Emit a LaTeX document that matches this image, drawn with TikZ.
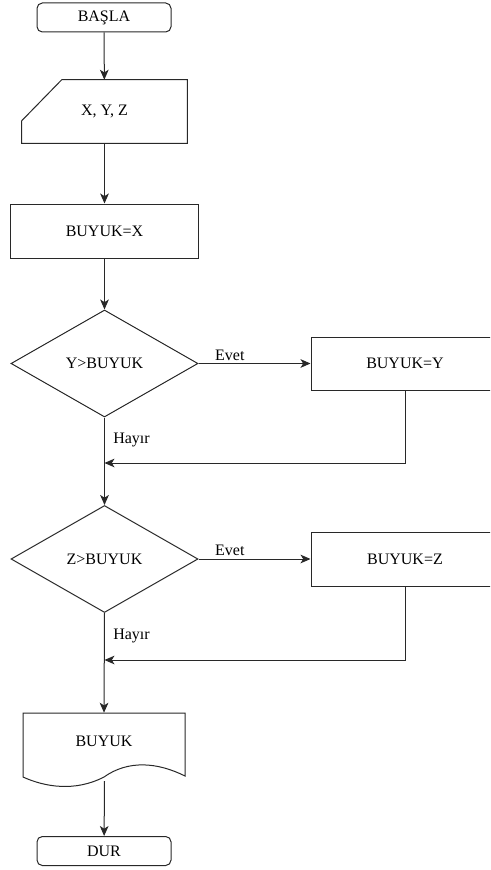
\documentclass[tikz,border=0pt]{standalone}
\usepackage{fontspec}
\setmainfont{Liberation Serif}
\usepackage{tikz}
\usetikzlibrary{shapes}
\usetikzlibrary{arrows.meta}

\begin{document}
\begin{tikzpicture}[x=0.75pt,y=0.75pt,yscale=-1,xscale=1,
  every node/.style={font=\fontsize{12}{14}\selectfont, inner sep=0.75pt},
  line/.style={draw={rgb,255:red,40;green,40;blue,40}, line width=0.75pt},
  arr/.style={line, -{Stealth[length=7.5pt,width=6.5pt,inset=2pt]}},
  term/.style={line, rounded corners=4pt, minimum width=100.5pt, minimum height=21.75pt},
  proc/.style={line, minimum width=141pt, minimum height=40.5pt},
  cond/.style={line, diamond, minimum width=140.25pt, minimum height=80.25pt, inner sep=0pt}]
\useasboundingbox (0,0) rectangle (490,870);
\clip (0,0) rectangle (490,870);

%Flowchart: Terminator
\node [term] (basla) at (104,17.5) {BAŞLA};
%Flowchart: Manual Input
\node [minimum width=123.75pt, minimum height=47.25pt] (giris) at (104.5,111.5) {X, Y, Z};
\draw [line] ([xshift=30pt]giris.north west) -- (giris.north east) -- (giris.south east) -- (giris.south west) -- ([yshift=30.75pt]giris.north west) -- cycle ;
%Flowchart: Process
\node [proc] (bx) at (104.5,231) {BUYUK=X};
%Flowchart: Decision
\node [cond] (ykarar) at (104.5,363.5) {Y>BUYUK};
%Flowchart: Process
\node [proc, minimum height=39.75pt] (by) at (405,363.5) {BUYUK=Y};
%Flowchart: Decision
\node [cond] (zkarar) at (104.5,559) {Z>BUYUK};
%Flowchart: Process
\node [proc] (bz) at (405,559) {BUYUK=Z};
%Flowchart: Document
\node [minimum width=121.5pt, minimum height=42pt] (cikti) at (104,741) {BUYUK};
\draw [line] (23,777) -- (23,713) -- (185,713) -- (185,776) .. controls (157,762) and (128,760) .. (104,777) .. controls (75,792) and (45,787) .. (23,777) -- cycle ;
%Flowchart: Terminator
\node [term] (dur) at (104,851) {DUR};

%join points on the main line
\coordinate (j1) at (104.5,463);
\coordinate (j2) at (104.5,660);
\coordinate (ciktib) at (104.5,781);

%Straight Lines
\draw [arr] (basla) -- (giris);
\draw [arr] (giris) -- (bx);
\draw [arr] (bx) -- (ykarar);
\draw [arr] (ykarar.east) -- (by.west) node [pos=0.28, above, inner sep=2pt] (evet1) {Evet};
\draw [arr] (by.south) |- (j1);
\draw [arr] (ykarar.south) -- (zkarar.north);
\draw [arr] (zkarar.east) -- (bz.west) node [pos=0.28, above, inner sep=2pt] (evet2) {Evet};
\draw [arr] (bz.south) |- (j2);
\draw [arr] (zkarar.south) -- (cikti.north);
\draw [arr] (ciktib) -- (dur);

% Text Node
\node (hayir1) at (131.5,440) {Hayır};
% Text Node
\node (hayir2) at (131.5,636) {Hayır};

\end{tikzpicture}
\end{document}
